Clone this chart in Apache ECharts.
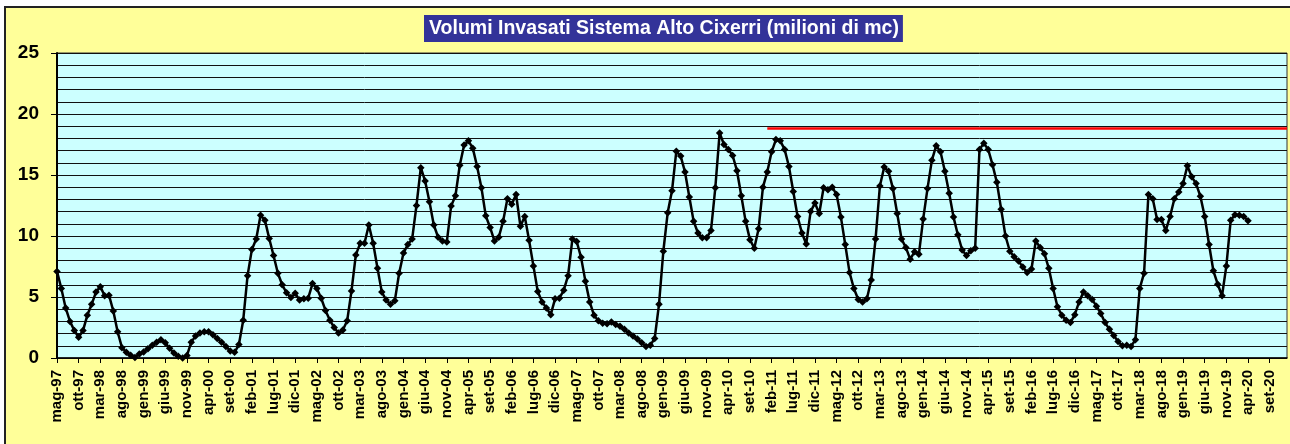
<!DOCTYPE html>
<html>
<head>
<meta charset="utf-8">
<script src="https://cdn.jsdelivr.net/npm/echarts@6/dist/echarts.min.js"></script>
<style>
html,body{margin:0;padding:0;background:#fff;}
#wrap{position:relative;width:1290px;height:444px;overflow:hidden;background:#fff;}
#panel{position:absolute;left:4px;top:6px;width:1300px;height:460px;background:#FFFF99;border:2px solid #222;box-sizing:border-box;}
#c{position:absolute;left:0;top:0;width:1290px;height:444px;}
</style>
</head>
<body>
<div id="wrap"><div id="panel"></div><div id="c"></div></div>
<script>
// ---- data ----
const monthNames = ['gen','feb','mar','apr','mag','giu','lug','ago','set','ott','nov','dic'];
const firstYear = 1997;
const firstMonthIndex = 4;      // mag
const categoryCount = 285;      // mag-97 ... gen-21
const titleText = 'Volumi Invasati Sistema Alto Cixerri (milioni di mc)';

// monthly stored volume (milioni di mc), from mag-97
const volumes = [
  7.1, 5.7, 4.1, 3.0, 2.25, 1.7, 2.25, 3.5,                 // mag-97 .. dic-97
  4.4, 5.4, 5.85, 5.1, 5.15, 3.85, 2.15, 0.85, 0.47, 0.22, 0.05, 0.33,   // 1998
  0.5, 0.75, 1.05, 1.3, 1.5, 1.25, 0.8, 0.4, 0.15, 0.0, 0.2, 1.3,        // 1999
  1.8, 2.05, 2.15, 2.15, 1.9, 1.6, 1.3, 0.95, 0.58, 0.47, 1.1, 3.1,      // 2000
  6.75, 8.9, 9.75, 11.7, 11.3, 9.8, 8.4, 6.95, 6.0, 5.35, 4.95, 5.3,     // 2001
  4.75, 4.85, 4.9, 6.1, 5.7, 4.9, 3.9, 3.1, 2.5, 2.05, 2.3, 3.05,        // 2002
  5.5, 8.45, 9.4, 9.4, 10.9, 9.4, 7.35, 5.4, 4.75, 4.4, 4.7, 6.95,       // 2003
  8.6, 9.3, 9.75, 12.5, 15.6, 14.5, 12.8, 10.9, 9.9, 9.6, 9.5, 12.45,    // 2004
  13.3, 15.8, 17.45, 17.8, 17.2, 15.7, 13.95, 11.65, 10.7, 9.6, 9.9, 11.2, // 2005
  13.05, 12.6, 13.4, 10.8, 11.6, 9.65, 7.55, 5.45, 4.6, 4.1, 3.55, 4.85, // 2006
  4.9, 5.55, 6.75, 9.75, 9.55, 8.25, 6.3, 4.6, 3.5, 3.05, 2.85, 2.8,     // 2007
  2.95, 2.75, 2.6, 2.35, 2.05, 1.8, 1.55, 1.25, 0.95, 1.05, 1.6, 4.4,    // 2008
  8.75, 11.9, 13.7, 16.95, 16.55, 15.25, 13.2, 11.2, 10.25, 9.85, 9.85, 10.45, // 2009
  13.95, 18.45, 17.5, 17.1, 16.6, 15.35, 13.3, 11.2, 9.7, 9.0, 10.6, 14.0,     // 2010
  15.25, 16.9, 17.9, 17.8, 17.1, 15.7, 13.65, 11.6, 10.25, 9.35, 12.0, 12.7,   // 2011
  11.85, 13.95, 13.8, 14.0, 13.4, 11.55, 9.3, 7.0, 5.7, 4.8, 4.6, 4.85,        // 2012
  6.4, 9.75, 14.1, 15.65, 15.3, 13.9, 11.85, 9.75, 9.05, 8.1, 8.7, 8.5,        // 2013
  11.4, 13.9, 16.2, 17.4, 16.9, 15.3, 13.5, 11.55, 10.1, 8.85, 8.4, 8.8,       // 2014
  9.0, 17.1, 17.6, 17.1, 15.85, 14.4, 12.2, 10.0, 8.75, 8.3, 7.95, 7.45,       // 2015
  7.0, 7.3, 9.6, 9.05, 8.55, 7.35, 5.7, 4.2, 3.5, 3.1, 2.9, 3.55,              // 2016
  4.6, 5.4, 5.1, 4.8, 4.25, 3.65, 2.9, 2.35, 1.85, 1.35, 1.0, 1.05,            // 2017
  0.95, 1.5, 5.7, 6.95, 13.4, 13.05, 11.35, 11.35, 10.45, 11.6, 13.05, 13.6,   // 2018
  14.3, 15.75, 14.85, 14.3, 13.25, 11.6, 9.3, 7.15, 6.05, 5.1, 7.55, 11.3,     // 2019
  11.75, 11.7, 11.6, 11.25                                                     // gen-20 .. apr-20
];

// red reference line
const refLineStart = 'gen-11';
const refLineEnd = 'gen-21';
const refLineValue = 18.85;

// y axis
const yMin = 0, yMax = 25, yMajorStep = 5;

// ---- categories ----
const categories = [];
for (let k = 0; k < categoryCount; k++) {
  const m = (firstMonthIndex + k) % 12;
  const y = firstYear + Math.floor((firstMonthIndex + k) / 12);
  categories.push(monthNames[m] + '-' + String(y % 100).padStart(2, '0'));
}

const FONT = '"Liberation Sans", Arial, sans-serif';
const chart = echarts.init(document.getElementById('c'), null, {renderer: 'canvas'});
chart.setOption({
  animation: false,
  backgroundColor: 'transparent',
  title: {
    text: titleText,
    left: 424,
    top: 15,
    padding: [3, 4, 3, 5],
    backgroundColor: '#333399',
    textStyle: {color: '#fff', fontFamily: FONT, fontWeight: 'bold', fontSize: 19.5, lineHeight: 21}
  },
  grid: {
    left: 57, right: 3, top: 53, bottom: 86,
    show: true, backgroundColor: '#CCFFFF', borderColor: '#333', borderWidth: 1,
    containLabel: false
  },
  xAxis: {
    type: 'category',
    data: categories,
    boundaryGap: false,
    axisLine: {show: true, lineStyle: {color: '#000', width: 1.5}},
    axisTick: {show: true, interval: 4, length: 5, lineStyle: {color: '#000', width: 1}},
    axisLabel: {
      interval: 4, rotate: 90, margin: 12,
      color: '#000', fontFamily: FONT, fontWeight: 'bold', fontSize: 15
    },
    splitLine: {show: false}
  },
  yAxis: {
    type: 'value',
    min: yMin, max: yMax, interval: yMajorStep,
    axisLine: {show: true, lineStyle: {color: '#000', width: 2}},
    axisTick: {show: true, length: 6, lineStyle: {color: '#000', width: 1}},
    axisLabel: {margin: 18, color: '#000', fontFamily: FONT, fontWeight: 'bold', fontSize: 19},
    splitLine: {show: true, lineStyle: {color: '#111', width: 1}},
    minorTick: {show: false, splitNumber: 5},
    minorSplitLine: {show: true, lineStyle: {color: '#111', width: 1}}
  },
  series: [
    {
      name: 'Volumi',
      type: 'line',
      data: volumes,
      symbol: 'diamond',
      symbolSize: 7.5,
      showAllSymbol: true,
      itemStyle: {color: '#000'},
      lineStyle: {color: '#000', width: 2.5},
      z: 3
    },
    {
      name: 'Riferimento',
      type: 'line',
      data: [],
      markLine: {
        silent: true,
        symbol: 'none',
        label: {show: false},
        lineStyle: {color: '#FF0000', width: 2.5, type: 'solid'},
        data: [[{coord: [refLineStart, refLineValue]}, {coord: [refLineEnd, refLineValue]}]]
      },
      z: 2
    }
  ]
});
</script>
</body>
</html>
